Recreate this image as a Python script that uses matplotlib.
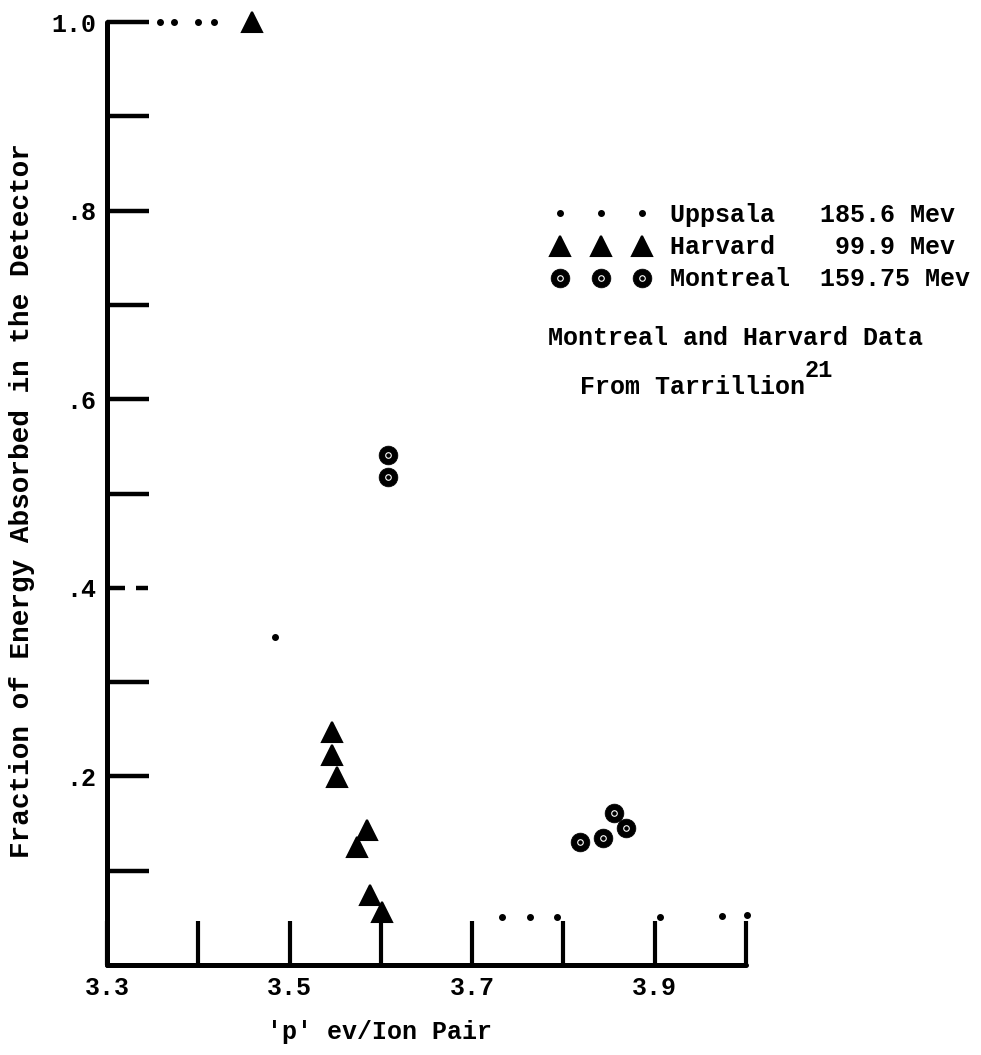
import numpy as np
import matplotlib
matplotlib.use("Agg")
import matplotlib.pyplot as plt
from matplotlib.lines import Line2D
from matplotlib.legend_handler import HandlerTuple

plt.rcParams['font.family'] = ['Liberation Mono', 'DejaVu Sans Mono']
plt.rcParams['font.weight'] = 'bold'
plt.rcParams['axes.labelweight'] = 'bold'

# data
uppsala_x = [3.358, 3.373, 3.400, 3.417, 3.484, 3.733, 3.763, 3.793, 3.906, 3.974, 4.001]
uppsala_y = [1.0, 1.0, 1.0, 1.0, 0.348, 0.051, 0.051, 0.051, 0.051, 0.052, 0.053]

harvard_x = [3.459, 3.546, 3.546, 3.552, 3.585, 3.574, 3.588, 3.601]
harvard_y = [1.0, 0.247, 0.223, 0.199, 0.143, 0.125, 0.074, 0.056]

montreal_x = [3.608, 3.608, 3.818, 3.843, 3.855, 3.868]
montreal_y = [0.541, 0.518, 0.130, 0.135, 0.161, 0.145]

x_ticks = [3.3, 3.4, 3.5, 3.6, 3.7, 3.8, 3.9, 4.0]
x_labels = ['3.3', '', '3.5', '', '3.7', '', '3.9', '']
y_ticks = [0.1, 0.2, 0.3, 0.4, 0.5, 0.6, 0.7, 0.8, 0.9, 1.0]
y_labels = ['', '.2', '', '.4', '', '.6', '', '.8', '', '1.0']

labels = ['Uppsala   185.6 Mev', 'Harvard    99.9 Mev', 'Montreal  159.75 Mev']

fig = plt.figure(figsize=(9.81, 10.55), dpi=100)
ax = fig.add_axes([107/981, 1-965/1055, (746-107)/981, (965-22)/1055])

ax.set_xlim(3.3, 4.0)
ax.set_ylim(0, 1.0)

# points
ax.plot(uppsala_x, uppsala_y, 'o', color='black', ms=4, clip_on=False, zorder=5)
ax.plot(harvard_x, harvard_y, '^', color='black', ms=15, mew=1.5,
        markeredgecolor='black', clip_on=False, zorder=5)
ax.plot(montreal_x, montreal_y, 'o', color='black', ms=13.5, mew=0.5, clip_on=False, zorder=5)
ax.plot(montreal_x, montreal_y, 'o', mfc='none', mec='white', ms=4, mew=0.8,
        clip_on=False, zorder=6)

# axes styling
for s in ['top', 'right']:
    ax.spines[s].set_visible(False)
for s in ['left', 'bottom']:
    ax.spines[s].set_linewidth(3.6)
    ax.spines[s].set_capstyle('round')

ax.set_xticks(x_ticks)
ax.set_xticklabels(x_labels)
ax.set_yticks(y_ticks)
ax.set_yticklabels(y_labels)
ax.tick_params(axis='x', direction='in', length=32, width=3, pad=8, labelsize=18)
ax.tick_params(axis='y', direction='in', length=30, width=3.2, pad=8, labelsize=18)

# the .4 tick is broken in the original
for t, val in zip(ax.yaxis.get_major_ticks(), y_ticks):
    if abs(val - 0.4) < 1e-6:
        t.tick1line.set_visible(False)
        ax.plot([0, 0.028], [val, val], color='black', lw=3.2,
                transform=ax.get_yaxis_transform(), solid_capstyle='butt')
        ax.plot([0.045, 0.064], [val, val], color='black', lw=3.2,
                transform=ax.get_yaxis_transform(), solid_capstyle='butt')

ax.set_xlabel("'p' ev/Ion Pair", fontsize=18)
ax.xaxis.set_label_coords(0.427, -0.058)
ax.set_ylabel("Fraction of Energy Absorbed in the Detector", fontsize=20)
ax.yaxis.set_label_coords(-0.113, 0.493)

# legend
h_upp = Line2D([], [], ls='none', marker='o', color='black', ms=4)
h_har = Line2D([], [], ls='none', marker='^', color='black', ms=15, mew=1.5)
h_mon = Line2D([], [], ls='none', marker='o', color='black', ms=13.5, mew=0.5)
h_mon_ring = Line2D([], [], ls='none', marker='o', mfc='none', mec='white', ms=4, mew=0.8)
leg = fig.legend([h_upp, h_har, (h_mon, h_mon_ring)], labels,
                 handler_map={tuple: HandlerTuple(ndivide=1)},
                 loc='upper left', bbox_to_anchor=(552/981, 1-203/1055),
                 frameon=False, numpoints=3, handlelength=3.9, handletextpad=0.8,
                 labelspacing=0.33, borderpad=0, borderaxespad=0, fontsize=18)

fig.text(548/981, 1-338/1055, 'Montreal and Harvard Data', fontsize=18, va='center')
t2 = fig.text(580/981, 1-387/1055, 'From Tarrillion', fontsize=18, va='center')
ax.annotate('21', xy=(1.0, 0.72), xycoords=t2, fontsize=17, va='bottom', ha='left')

fig.savefig('out.png', dpi=100)
